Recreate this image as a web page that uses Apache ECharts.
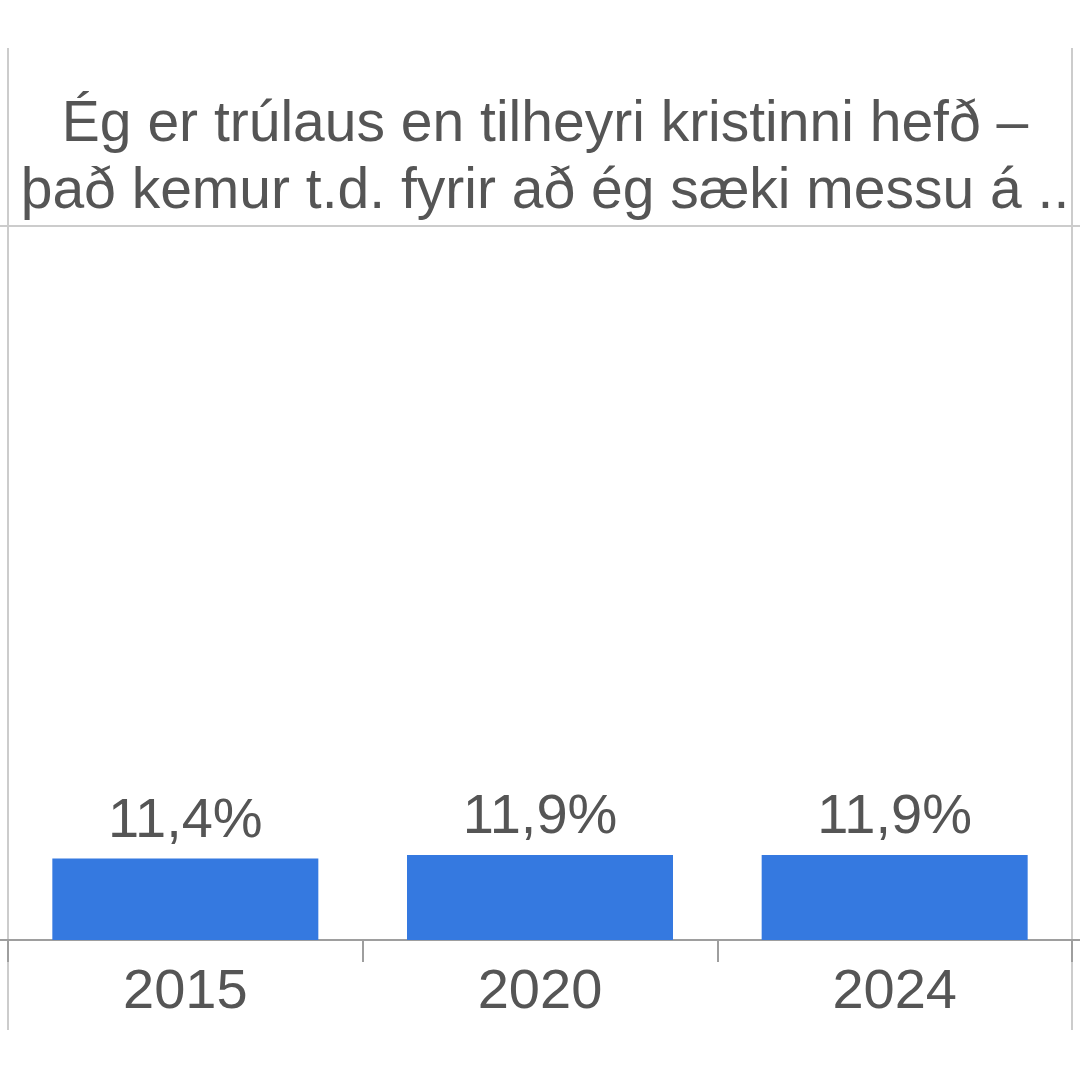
<!DOCTYPE html>
<html>
<head>
<meta charset="utf-8">
<style>html,body{margin:0;padding:0;background:#fff;}#c{width:1080px;height:1080px;}</style>
<script src="https://cdn.jsdelivr.net/npm/echarts@6/dist/echarts.min.js"></script>
</head>
<body>
<div id="c"></div>
<script>
const titleLines = ['Ég er trúlaus en tilheyri kristinni hefð –', 'það kemur t.d. fyrir að ég sæki messu á ..'];
const categories = ['2015', '2020', '2024'];
const values = [11.4, 11.9, 11.9];
const yMin = 0;
const yMax = 100;

const FONT = 'Liberation Sans, Arial, sans-serif';
const chart = echarts.init(document.getElementById('c'), null, {renderer: 'canvas'});
chart.setOption({
  animation: false,
  backgroundColor: '#ffffff',
  title: {
    text: titleLines.join('\n'),
    left: 540,
    top: 87,
    textAlign: 'center',
    textStyle: {fontFamily: FONT, fontSize: 57, fontWeight: 'normal', color: '#555555', lineHeight: 67, align: 'center'}
  },
  grid: {left: 8, right: 8, top: 226, bottom: 140, containLabel: false},
  xAxis: {
    type: 'category',
    data: categories,
    axisLine: {show: true, lineStyle: {color: '#9e9e9e', width: 2}},
    axisTick: {show: true, length: 22, alignWithLabel: false, lineStyle: {color: '#9e9e9e', width: 2}},
    axisLabel: {fontFamily: FONT, fontSize: 56, color: '#555555', margin: 25}
  },
  yAxis: {
    type: 'value', min: yMin, max: yMax, show: false,
    splitLine: {show: false}
  },
  graphic: [
    {type: 'line', silent: true, z: -1, shape: {x1: 8, y1: 48, x2: 8, y2: 1030}, style: {stroke: '#cccccc', lineWidth: 2}},
    {type: 'line', silent: true, z: -1, shape: {x1: 1072, y1: 48, x2: 1072, y2: 1030}, style: {stroke: '#cccccc', lineWidth: 2}},
    {type: 'line', silent: true, z: -1, shape: {x1: 0, y1: 226, x2: 1080, y2: 226}, style: {stroke: '#cccccc', lineWidth: 2}},
    {type: 'line', silent: true, z: -1, shape: {x1: 0, y1: 940, x2: 1080, y2: 940}, style: {stroke: '#9e9e9e', lineWidth: 2}}
  ],
  series: [{
    type: 'bar',
    data: values,
    barWidth: '75%',
    barCategoryGap: '25%',
    itemStyle: {color: '#3579e0'},
    label: {
      show: true, position: 'top', distance: 9,
      fontFamily: FONT, fontSize: 56, color: '#555555',
      formatter: p => String(p.value).replace('.', ',') + '%'
    }
  }]
});
</script>
</body>
</html>
